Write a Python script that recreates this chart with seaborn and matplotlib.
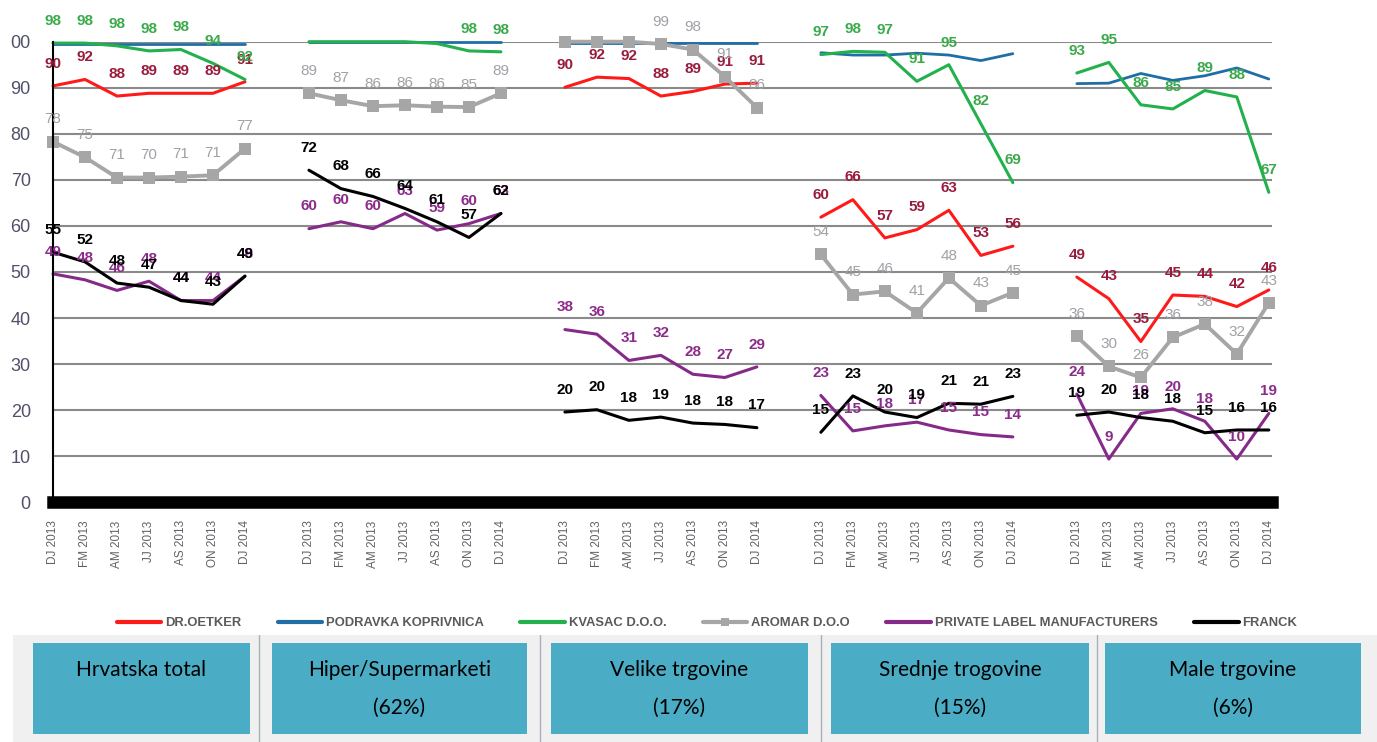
import numpy as np
import pandas as pd
import matplotlib
matplotlib.use("Agg")
import matplotlib.pyplot as plt
import seaborn as sns
from matplotlib.lines import Line2D
from matplotlib.patches import Rectangle

nan = np.nan

# ---------------- data ----------------
periods = ["DJ 2013", "FM 2013", "AM 2013", "JJ 2013", "AS 2013", "ON 2013", "DJ 2014"]
channel_names = ["Hrvatska total", "Hiper/Supermarketi", "Velike trgovine", "Srednje trogovine", "Male trgovine"]
channel_shares = ["", "(62%)", "(17%)", "(15%)", "(6%)"]
companies = ["DR.OETKER", "PODRAVKA KOPRIVNICA", "KVASAC D.O.O.", "AROMAR D.O.O",
             "PRIVATE LABEL MANUFACTURERS", "FRANCK"]

# values per company: 5 channels x 7 periods
dr_oetker = [90.4, 91.8, 88.2, 88.8, 88.8, 88.8, 91.3,
             nan, nan, nan, nan, nan, nan, nan,
             90.1, 92.3, 92.0, 88.2, 89.2, 90.8, 91.0,
             61.9, 65.7, 57.4, 59.2, 63.4, 53.6, 55.6,
             48.9, 44.2, 34.9, 45.0, 44.7, 42.5, 46.1]
podravka = [99.4, 99.4, 99.4, 99.4, 99.4, 99.4, 99.4,
            99.9, 99.9, 99.9, 99.9, 99.9, 99.9, 99.9,
            99.8, 99.8, 99.8, 99.8, 99.8, 99.8, 99.8,
            97.6, 97.1, 97.1, 97.5, 97.1, 95.9, 97.4,
            90.9, 91.0, 93.1, 91.6, 92.6, 94.3, 91.9]
kvasac = [99.7, 99.7, 99.1, 98.0, 98.3, 95.3, 91.8,
          100.0, 100.0, 100.0, 100.0, 99.6, 98.0, 97.8,
          nan, nan, nan, nan, nan, nan, nan,
          97.2, 97.9, 97.7, 91.4, 95.0, 82.2, 69.4,
          93.2, 95.5, 86.3, 85.4, 89.4, 88.0, 67.3]
aromar = [78.3, 74.9, 70.5, 70.5, 70.7, 71.0, 76.8,
          88.8, 87.3, 86.0, 86.2, 85.9, 85.8, 88.8,
          100.0, 100.0, 100.0, 99.5, 98.3, 92.4, 85.7,
          53.8, 45.1, 45.8, 41.1, 48.7, 42.7, 45.5,
          36.0, 29.5, 27.1, 35.8, 38.7, 32.2, 43.3]
private_label = [49.6, 48.3, 46.0, 48.0, 43.8, 43.8, 49.1,
                 59.4, 60.9, 59.4, 62.7, 59.1, 60.5, 62.7,
                 37.5, 36.5, 30.8, 31.9, 27.8, 27.1, 29.4,
                 23.2, 15.5, 16.6, 17.4, 15.7, 14.7, 14.2,
                 23.5, 9.4, 19.3, 20.3, 17.6, 9.4, 19.3]
franck = [54.3, 52.2, 47.6, 46.7, 43.8, 43.0, 49.1,
          72.1, 68.1, 66.4, 63.8, 60.9, 57.5, 62.7,
          19.6, 20.1, 17.8, 18.5, 17.2, 16.9, 16.2,
          15.2, 23.1, 19.6, 18.4, 21.5, 21.3, 23.0,
          18.9, 19.6, 18.4, 17.6, 15.1, 15.7, 15.7]

# data labels as printed on the chart ('' = not shown)
lbl_dr_oetker = ["90", "92", "88", "89", "89", "89", "91",
                 "", "", "", "", "", "", "",
                 "90", "92", "92", "88", "89", "91", "91",
                 "60", "66", "57", "59", "63", "53", "56",
                 "49", "43", "35", "45", "44", "42", "46"]
lbl_podravka = [""] * 35
lbl_kvasac = ["98", "98", "98", "98", "98", "94", "92",
              "", "", "", "", "", "98", "98",
              "", "", "", "", "", "", "",
              "97", "98", "97", "91", "95", "82", "69",
              "93", "95", "86", "85", "89", "88", "67"]
lbl_aromar = ["78", "75", "71", "70", "71", "71", "77",
              "89", "87", "86", "86", "86", "85", "89",
              "", "", "", "99", "98", "91", "86",
              "54", "45", "46", "41", "48", "43", "45",
              "36", "30", "26", "36", "38", "32", "43"]
lbl_private_label = ["49", "48", "46", "48", "44", "44", "48",
                     "60", "60", "60", "63", "59", "60", "63",
                     "38", "36", "31", "32", "28", "27", "29",
                     "23", "15", "18", "17", "15", "15", "14",
                     "24", "9", "19", "20", "18", "10", "19"]
lbl_franck = ["55", "52", "48", "47", "44", "43", "49",
              "72", "68", "66", "64", "61", "57", "62",
              "20", "20", "18", "19", "18", "18", "17",
              "15", "23", "20", "19", "21", "21", "23",
              "19", "20", "18", "18", "15", "16", "16"]

series_values = [dr_oetker, podravka, kvasac, aromar, private_label, franck]
series_labels = [lbl_dr_oetker, lbl_podravka, lbl_kvasac, lbl_aromar, lbl_private_label, lbl_franck]

# ---------------- styles ----------------
line_colors = ["#ff1a1a", "#1f6ea6", "#22b14c", "#a6a6a6", "#862a8a", "#000000"]
label_colors = ["#9a1c3c", "#1f6ea6", "#3aaa4a", "#a0a0a6", "#8b2c8b", "#000000"]
line_widths = [2.2, 2.0, 2.2, 2.8, 2.2, 2.2]

rows = []
for comp, vals, lbls in zip(companies, series_values, series_labels):
    for k, (v, l) in enumerate(zip(vals, lbls)):
        p, i = divmod(k, 7)
        rows.append(dict(company=comp, panel=p, period=periods[i], pos=p * 8 + i, value=v, label=l))
df = pd.DataFrame(rows)

sns.set_theme(style="white")
plt.rcParams["font.family"] = ["Liberation Sans", "DejaVu Sans"]

W, H = 1377, 742
fig = plt.figure(figsize=(W / 100, H / 100), dpi=100)
left_px, right_px, top_px, bot_px = 53, 1272, 41.7, 502.3
ax = fig.add_axes([left_px / W, 1 - bot_px / H, (right_px - left_px) / W, (bot_px - top_px) / H])

for comp, col, lw in zip(companies, line_colors, line_widths):
    sub = df[(df.company == comp) & df.value.notna()]
    kw = dict(marker="s", markersize=8, markeredgewidth=0) if comp == "AROMAR D.O.O" else {}
    sns.lineplot(data=sub, x="pos", y="value", units="panel", estimator=None, sort=False,
                 color=col, linewidth=lw, ax=ax, legend=False, **kw)
for ln in ax.lines:
    ln.set_clip_on(False)

for comp, lc in zip(companies, label_colors):
    sub = df[(df.company == comp) & (df.label != "")]
    wt = "normal" if comp == "AROMAR D.O.O" else "bold"
    for _, r in sub.iterrows():
        ax.annotate(r["label"], (r["pos"], r["value"]), xytext=(0, 16), textcoords="offset points",
                    ha="center", va="center", fontsize=11, fontweight=wt, color=lc,
                    annotation_clip=False)

ax.set_xlim(0, 38.1)
ax.set_ylim(0, 100)
ax.set_yticks(range(0, 101, 10))
ax.set_yticklabels(["0", "10", "20", "30", "40", "50", "60", "70", "80", "90", "00"])
ax.tick_params(axis="y", length=0, pad=16, labelsize=13, labelcolor="#50506a")
positions = sorted(df.pos.unique())
ax.set_xticks(positions)
ax.set_xticklabels([periods[int(p) % 8] for p in positions], rotation=90, va="top")
ax.tick_params(axis="x", length=0, pad=13, labelsize=8.5, labelcolor="#606068")
ax.set_xlabel("")
ax.set_ylabel("")
ax.yaxis.grid(True, color="#8a8a8a", linewidth=1.5)
ax.xaxis.grid(False)
ax.set_axisbelow(True)
for s in ["top", "right"]:
    ax.spines[s].set_visible(False)
ax.spines["left"].set_color("black")
ax.spines["left"].set_linewidth(1.5)
ax.spines["bottom"].set_color("black")
ax.spines["bottom"].set_linewidth(9)

handles = []
for comp, col, lw in zip(companies, line_colors, line_widths):
    if comp == "AROMAR D.O.O":
        handles.append(Line2D([], [], color=col, lw=3, marker="s", markersize=6, markeredgewidth=0))
    else:
        handles.append(Line2D([], [], color=col, lw=3))
fig.legend(handles, companies, loc="center", bbox_to_anchor=(707 / W, 1 - 623 / H), ncol=6,
           frameon=False, handlelength=3.4, handletextpad=0.3, columnspacing=2.8,
           prop=dict(family="Liberation Sans", weight="bold", size=9.4), labelcolor="#5a5a5a")

# ---------------- channel boxes ----------------
axb = fig.add_axes([0, 0, 1, 107 / H])
axb.set_xlim(0, W)
axb.set_ylim(742, 635)
axb.axis("off")
axb.add_patch(Rectangle((13, 635), W - 13, 107, color="#f0f0f0", lw=0))
for xs in [259, 540, 821, 1097]:
    axb.plot([xs, xs], [635, 742], color="#a8b0b8", lw=1)
box_l = [33, 272, 551, 831, 1105]
box_r = [250, 527, 808, 1089, 1361]
for bl, br, name, share in zip(box_l, box_r, channel_names, channel_shares):
    axb.add_patch(Rectangle((bl, 643), br - bl, 91, color="#4bacc6", lw=0))
    cx = (bl + br) / 2
    axb.text(cx, 670, name, ha="center", va="center", fontsize=15, family="Lato", color="black")
    if share:
        axb.text(cx, 708, share, ha="center", va="center", fontsize=15, family="Lato", color="black")

fig.savefig("out.png", dpi=100)
